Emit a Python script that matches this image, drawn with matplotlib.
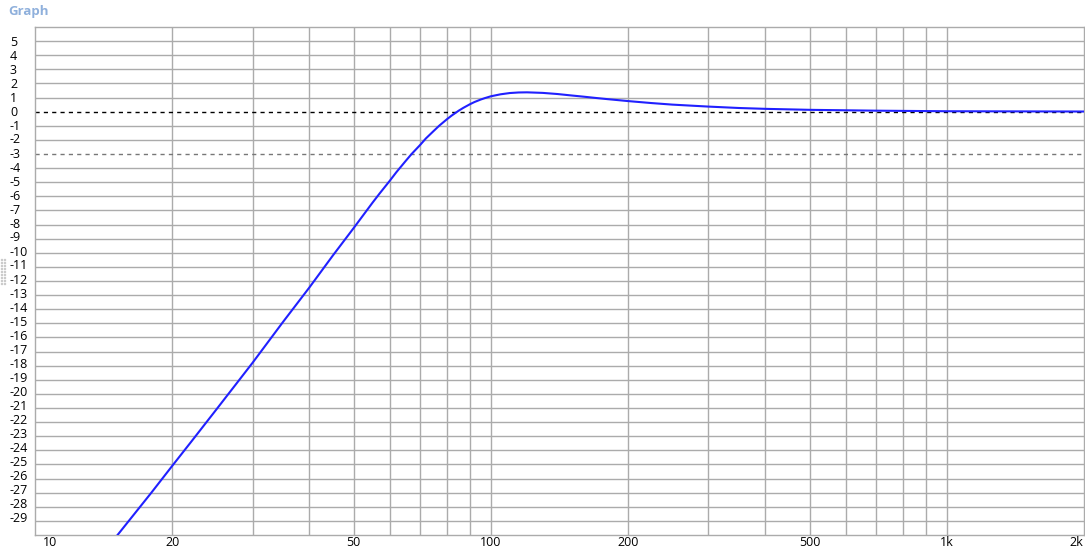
import numpy as np
import matplotlib
matplotlib.use("Agg")
import matplotlib.pyplot as plt
from matplotlib.ticker import FixedLocator, NullFormatter

# frequency response (Hz, dB)
freq = [14.5, 15, 18, 20, 22, 25, 30, 35, 40, 45, 50, 55, 57, 60, 62, 65,
        67, 70, 72, 75, 77, 80, 82, 85, 87, 90, 92, 95, 97, 100, 105, 110,
        115, 120, 125, 130, 140, 150, 160, 170, 180, 200, 225, 250, 300, 350,
        400, 500, 700, 1000, 2000]
gain = [-30.8, -30.2, -27.0, -25.1, -23.4, -21.1, -17.8, -14.9, -12.45, -10.2,
        -8.25, -6.45, -5.8, -4.9, -4.3, -3.5, -3.0, -2.35, -1.9, -1.35,
        -1.0, -0.55, -0.28, 0.07, 0.27, 0.53, 0.68, 0.86, 0.96, 1.09,
        1.23, 1.32, 1.36, 1.37, 1.35, 1.33, 1.25, 1.15, 1.06, 0.97,
        0.89, 0.75, 0.61, 0.5, 0.36, 0.26, 0.2, 0.13, 0.07, 0.03, 0.01]

x_ticks = [10, 20, 50, 100, 200, 500, 1000, 2000]
x_labels = ["10", "20", "50", "100", "200", "500", "1k", "2k"]
x_grid = [20, 30, 40, 50, 60, 70, 80, 90, 100, 200, 300, 400, 500, 600,
          700, 800, 900, 1000]
y_labels = list(range(5, -30, -1))

plt.rcParams['font.family'] = ['Open Sans', 'DejaVu Sans']
grid_col = "#ababab"

fig = plt.figure(figsize=(10.85, 5.58), dpi=100)
fig.patch.set_facecolor("white")
ax = fig.add_axes([35/1085, 23/558, 1049/1085, 508/558])

ax.set_xscale("log")
ax.set_xlim(10, 2000)
ax.set_ylim(-30, 6)

# grid
for g in x_grid:
    ax.axvline(g, color=grid_col, lw=1.0, zorder=1)
for v in range(-29, 6):
    if v in (0, -3):
        continue
    ax.axhline(v, color=grid_col, lw=1.0, zorder=1)
ax.axhline(0, color="black", lw=1.0, ls=(0, (3, 3)), zorder=2)
ax.axhline(-3, color="#777777", lw=1.0, ls=(0, (3, 3)), zorder=2)

ax.plot(freq, gain, color="#2020ff", lw=1.5, zorder=3, clip_on=True)

for s in ax.spines.values():
    s.set_color(grid_col)
    s.set_linewidth(1.0)

ax.xaxis.set_major_locator(FixedLocator([]))
ax.xaxis.set_minor_locator(FixedLocator([]))
ax.xaxis.set_minor_formatter(NullFormatter())
ax.set_yticks([])
ax.tick_params(length=0)

# axis labels drawn as text so they sit like the original
for t, lab in zip(x_ticks, x_labels):
    ha = "center"
    xo = t
    if t == 10:
        ha = "left"
        xo = 10.4
    if t == 2000:
        ha = "right"
        xo = 1990
    ax.text(xo, -30.55, lab, ha=ha, va="center", fontsize=9, color="black",
            clip_on=False)
for v in y_labels:
    fig.text(10/1085, 1 - (112 - 14*v)/558, str(v), ha="left", va="center",
             fontsize=9, color="black")

fig.text(8/1085, 1 - 12/558, "Graph", ha="left", va="center", fontsize=9.5,
         fontweight="bold", color="#8fb0dc")

# splitter grip on the left edge
for gy in range(260, 286, 3):
    for gx in (1, 4):
        fig.patches.append(plt.Rectangle((gx/1085, 1 - gy/558), 1/1085, 1/558,
                                         transform=fig.transFigure,
                                         color="#c8c8c8"))

fig.savefig("out.png", dpi=100, facecolor="white")
